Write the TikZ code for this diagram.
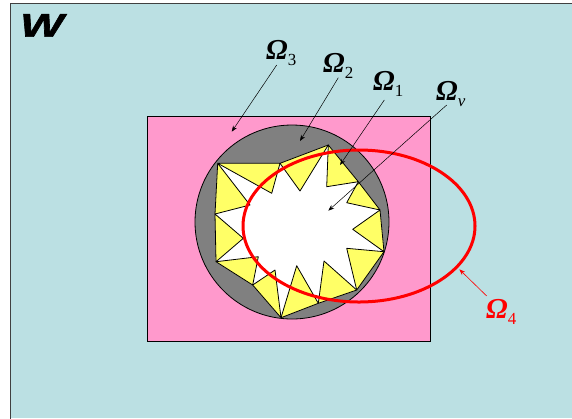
\documentclass[tikz,border=0pt]{standalone}
\usepackage{fontspec}
\setmainfont{Liberation Serif}
\newfontfamily\wfont[FakeBold=1.5]{Liberation Sans}
\usetikzlibrary{arrows.meta}
\definecolor{bgcyan}{RGB}{187,224,227}
\definecolor{pinkfill}{RGB}{255,153,204}
\definecolor{grayfill}{RGB}{128,128,128}
\definecolor{yellowfill}{RGB}{255,255,102}
\newcommand{\omlabel}[1]{{\fontsize{29}{29}\selectfont\bfseries\itshape Ω}\raisebox{-6bp}{\fontsize{17}{17}\selectfont #1}}
\tikzset{
  tri/.style={fill=yellowfill, draw=black, line width=0.8bp, line join=round},
  ptr/.style={draw=black, line width=0.5bp, -{Stealth[length=6bp,width=4.5bp]}},
  redptr/.style={draw=red, line width=0.6bp, -{Stealth[length=6bp,width=4.5bp]}},
  lbl/.style={anchor=base west, inner sep=0pt}
}
\begin{document}
\begin{tikzpicture}[x=1bp,y=-1bp]
\useasboundingbox (0,0) rectangle (572,418);
\fill[white] (0,0) rectangle (572,418);
\fill[bgcyan] (10,3) rectangle (572,418);
\draw[line width=1.3bp, black!75] (10.5,420) -- (10.5,3.5) -- (575,3.5);

\draw[fill=pinkfill, line width=0.8bp] (147,116) rectangle (430,341);
\draw[fill=grayfill, line width=0.8bp] (292,222) circle (97bp);

% hull points
\coordinate (p1) at (217.7,163.3);
\coordinate (p2) at (280,163.3);
\coordinate (p3) at (328.3,145);
\coordinate (p4) at (358.3,181.7);
\coordinate (p5) at (380,210);
\coordinate (p6) at (384,251.7);
\coordinate (p7) at (356.7,290);
\coordinate (p8) at (318.3,303.3);
\coordinate (p9) at (281,317.7);
\coordinate (p10) at (252.7,285);
\coordinate (p11) at (216,261.7);
\coordinate (p12) at (215,214);
% apexes
\coordinate (a1) at (271.7,193.3);
\coordinate (a12) at (300,191);
\coordinate (a11) at (326.7,186.7);
\coordinate (a10) at (346.7,202.7);
\coordinate (a9) at (352.7,229.3);
\coordinate (a8) at (346.7,248.3);
\coordinate (a7) at (324,261);
\coordinate (a6) at (296.7,265.7);
\coordinate (a5) at (275,270);
\coordinate (a4) at (258.3,256.7);
\coordinate (a3) at (243.3,238.3);
\coordinate (a2) at (250,205);

\fill[white] (p1) -- (p2) -- (p3) -- (p4) -- (p5) -- (p6) -- (p7) -- (p8) -- (p9) -- (p10) -- (p11) -- (p12) -- cycle;
\path[tri] (p1) -- (p2) -- (a1) -- cycle;
\path[tri] (p2) -- (p3) -- (a12) -- cycle;
\path[tri] (p3) -- (p4) -- (a11) -- cycle;
\path[tri] (p4) -- (p5) -- (a10) -- cycle;
\path[tri] (p5) -- (p6) -- (a9) -- cycle;
\path[tri] (p6) -- (p7) -- (a8) -- cycle;
\path[tri] (p7) -- (p8) -- (a7) -- cycle;
\path[tri] (p8) -- (p9) -- (a6) -- cycle;
\path[tri] (p9) -- (p10) -- (a5) -- cycle;
\path[tri] (p10) -- (p11) -- (a4) -- cycle;
\path[tri] (p11) -- (p12) -- (a3) -- cycle;
\path[tri] (p12) -- (p1) -- (a2) -- cycle;

\draw[red, line width=3bp] (359,226) ellipse [x radius=116bp, y radius=76bp];

% labels
\node[lbl] (w) at (20,36.7) {\scalebox{1.4}[1]{\wfont\bfseries\itshape\fontsize{33}{33}\selectfont W}};
\node[lbl] (o3) at (266,59.5) {\omlabel{3}};
\node[lbl] (o2) at (323,72) {\omlabel{2}};
\node[lbl] (o1) at (373,90.5) {\omlabel{1}};
\node[lbl] (ov) at (436,100.5) {\omlabel{\itshape v}};
\node[lbl, text=red] (o4) at (486,318.5) {\omlabel{4}};

% arrow coordinates
\coordinate (s3) at (276.7,65);
\coordinate (e3) at (231.7,131.7);
\coordinate (s2) at (338.3,77.7);
\coordinate (e2) at (300,141);
\coordinate (s1) at (384.3,100);
\coordinate (e1) at (340,165);
\coordinate (sv) at (446.7,105);
\coordinate (ev) at (328.3,210.7);
\coordinate (s4) at (486.7,296);
\coordinate (e4) at (459.3,269.3);

\draw[ptr] (s3) -- (e3);
\draw[ptr] (s2) -- (e2);
\draw[ptr] (s1) -- (e1);
\draw[ptr] (sv) -- (ev);
\draw[redptr] (s4) -- (e4);
\end{tikzpicture}
\end{document}
